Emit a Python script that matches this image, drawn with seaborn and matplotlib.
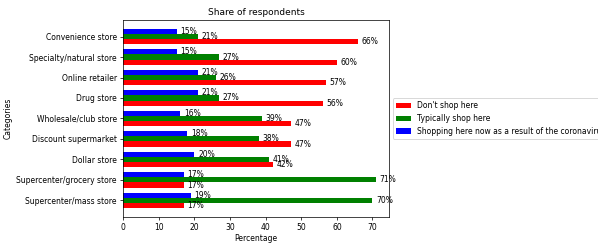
import pandas as pd
import matplotlib
matplotlib.use("Agg")
import matplotlib.pyplot as plt
import seaborn as sns

# store types, listed from the top of the chart down
categories = ["Convenience store", "Specialty/natural store", "Online retailer",
              "Drug store", "Wholesale/club store", "Discount supermarket",
              "Dollar store", "Supercenter/grocery store", "Supercenter/mass store"]
dont_shop = [66, 60, 57, 56, 47, 47, 42, 17, 17]
typically_shop = [21, 27, 26, 27, 39, 38, 41, 71, 70]
shopping_now = [15, 15, 21, 21, 16, 18, 20, 17, 19]

series_names = ["Don't shop here", "Typically shop here",
                "Shopping here now as a result of the coronavirus"]
series_colors = ["red", "green", "blue"]

df = pd.DataFrame({
    "Categories": categories,
    series_names[0]: dont_shop,
    series_names[1]: typically_shop,
    series_names[2]: shopping_now,
})
long_df = df.melt(id_vars="Categories", var_name="Series", value_name="Percentage")

plt.rcParams["font.size"] = 8.5

fig, ax = plt.subplots(figsize=(598 / 65, 243 / 65), dpi=65)
sns.barplot(data=long_df, y="Categories", x="Percentage", hue="Series",
            order=categories[::-1], hue_order=series_names,
            palette=series_colors, saturation=1, width=0.75, linewidth=0, ax=ax)

# first category at the bottom, first series at the bottom of each group
ax.set_ylim(-0.8125, len(categories) - 1 + 0.8125)

for container in ax.containers:
    ax.bar_label(container, fmt="%d%%", padding=4)

ax.set_xlim(0, 74.55)
ax.set_title("Share of respondents", fontsize=10)
ax.set_xlabel("Percentage", labelpad=2)
ax.set_ylabel("Categories")
ax.legend(loc="center left", bbox_to_anchor=(1, 0.5))

fig.subplots_adjust(left=0.206, right=0.650, top=0.918, bottom=0.107)
fig.savefig("out.png", dpi=65)
